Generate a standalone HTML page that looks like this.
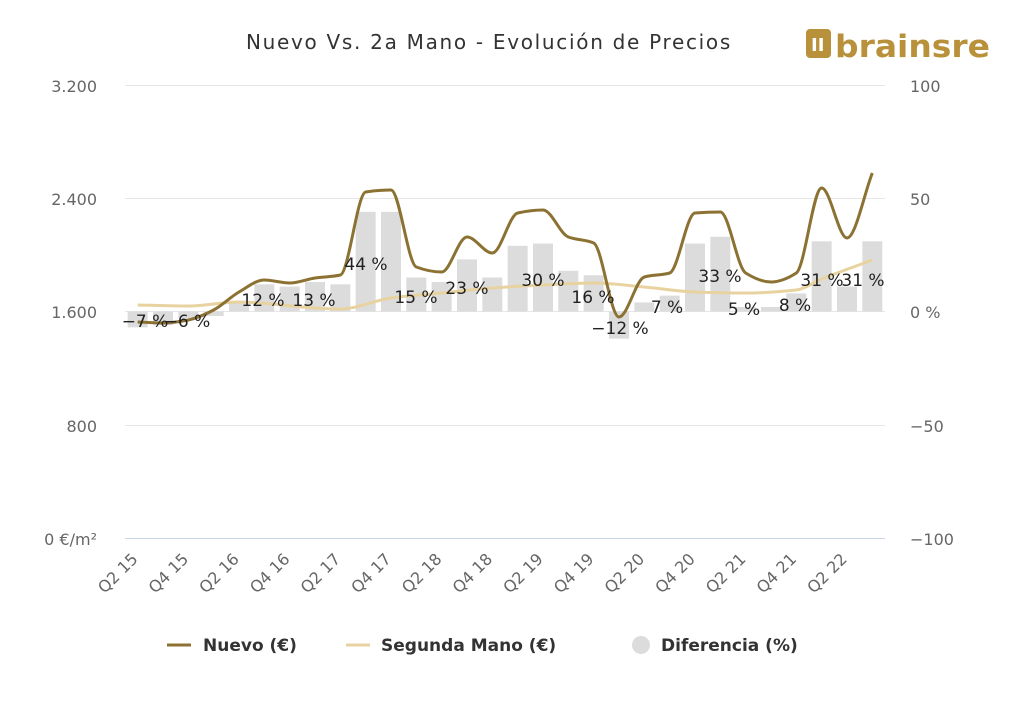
<!DOCTYPE html>
<html><head><meta charset="utf-8"><style>
body{margin:0;background:#fff;}
svg{font-family:"DejaVu Sans",sans-serif;}
</style></head><body>
<svg id="c" width="1024" height="723" viewBox="0 0 1024 723" xmlns="http://www.w3.org/2000/svg">
<rect width="1024" height="723" fill="#fff"/>
<text x="489" y="49" text-anchor="middle" font-size="20" letter-spacing="1.7" fill="#333">Nuevo Vs. 2a Mano - Evolución de Precios</text>
<g>
<rect x="806" y="29" width="25" height="29" rx="4" fill="#b8913a"/>
<text x="811" y="51" font-size="18" font-weight="bold" fill="#fff">II</text>
<text x="835" y="57" font-size="31" font-weight="bold" fill="#b8913a" textLength="155" lengthAdjust="spacingAndGlyphs">brainsre</text>
</g>
<g stroke="#e6e6e6" stroke-width="1">
<line x1="125" x2="885" y1="85.5" y2="85.5"/>
<line x1="125" x2="885" y1="198.5" y2="198.5"/>
<line x1="125" x2="885" y1="311.5" y2="311.5"/>
<line x1="125" x2="885" y1="425.5" y2="425.5"/>
</g>
<line x1="125" x2="885" y1="538.5" y2="538.5" stroke="#ccd6eb"/>
<g font-size="16" fill="#666" text-anchor="end">
<text x="97" y="92">3.200</text><text x="97" y="205">2.400</text><text x="97" y="318">1.600</text><text x="97" y="432">800</text><text x="97" y="545">0 €/m²</text>
</g>
<g font-size="16" fill="#666">
<text x="910" y="92">100</text><text x="910" y="205">50</text><text x="910" y="318">0 %</text><text x="910" y="432">−50</text><text x="910" y="545">−100</text>
</g>
<g id="bars" fill="#dcdcdc"></g>
<path id="seg" fill="none" stroke="#e8d3a0" stroke-width="3"/>
<path id="nue" fill="none" stroke="#8c7232" stroke-width="3"/>
<g id="xl" font-size="16" fill="#666"></g>
<g font-size="17" fill="#222" text-anchor="middle">
<text x="145" y="327">−7 %</text><text x="187" y="327">−6 %</text>
<text x="263" y="306">12 %</text><text x="314" y="306">13 %</text>
<text x="366" y="270">44 %</text><text x="416" y="303">15 %</text>
<text x="467" y="294">23 %</text><text x="543" y="286">30 %</text>
<text x="593" y="303">16 %</text><text x="620" y="334">−12 %</text>
<text x="667" y="313">7 %</text><text x="720" y="282">33 %</text>
<text x="744" y="315">5 %</text><text x="795" y="311">8 %</text>
<text x="822" y="286">31 %</text><text x="863" y="286">31 %</text>
</g>
<g font-size="17" font-weight="bold" fill="#333">
<line x1="167" x2="191" y1="645" y2="645" stroke="#8c7232" stroke-width="3"/>
<text x="203" y="651">Nuevo (€)</text>
<line x1="346" x2="370" y1="645" y2="645" stroke="#e8d3a0" stroke-width="3"/>
<text x="381" y="651">Segunda Mano (€)</text>
<circle cx="641" cy="645" r="9" fill="#dcdcdc"/>
<text x="661" y="651">Diferencia (%)</text>
</g>
</svg>
<script>
var NS="http://www.w3.org/2000/svg";
function cx(i){return 125+25.333*(i+0.5);}
var pct=[-7,-6,-3,-2,4,12,11,13,12,44,44,15,13,23,15,29,30,18,16,-12,4,7,30,33,2,2,8,31,11,31];
var g=document.getElementById('bars');
pct.forEach(function(p,i){var y0=311.5,y=311.5-p*2.265;var r=document.createElementNS(NS,'rect');
r.setAttribute('x',cx(i)-10);r.setAttribute('width',20);r.setAttribute('y',Math.min(y,y0));r.setAttribute('height',Math.abs(y-y0));g.appendChild(r);});
var nue=[322,323,320,310,292,280,283,278,275,192,190,267,272,237,253,213,210,237,243,317,277,273,213,212,273,282,273,188,238,173];
var segIdx=[0,2,4,7,8,10,12,14,16,18,20,22,24,26,27,29];
var segY=[305,306,302,308,309,298,293,288,285,283,287,292,293,290,279,260];
function path(xs,ys){var n=xs.length,d=[],m=[];
for(var i=0;i<n-1;i++)d.push((ys[i+1]-ys[i])/(xs[i+1]-xs[i]));
m[0]=d[0];m[n-1]=d[n-2];
for(i=1;i<n-1;i++){if(d[i-1]*d[i]<=0)m[i]=0;else m[i]=2/(1/d[i-1]+1/d[i]);}
var s='M'+xs[0]+','+ys[0];
for(i=0;i<n-1;i++){var h=(xs[i+1]-xs[i])/3;
s+=' C'+(xs[i]+h)+','+(ys[i]+m[i]*h)+' '+(xs[i+1]-h)+','+(ys[i+1]-m[i+1]*h)+' '+xs[i+1]+','+ys[i+1];}
return s;}
document.getElementById('nue').setAttribute('d',path(nue.map(function(v,i){return cx(i);}),nue));
document.getElementById('seg').setAttribute('d',path(segIdx.map(cx),segY));
var xl=document.getElementById('xl');
for(var k=0;k<15;k++){var q=(k%2==0)?'Q2 ':'Q4 ';var yy=15+Math.floor(k/2);
var t=document.createElementNS(NS,'text');var x=cx(2*k)+1,y=560;t.setAttribute('x',x);t.setAttribute('y',y);t.setAttribute('text-anchor','end');
t.setAttribute('transform','rotate(-45 '+x+' '+y+')');t.textContent=q+yy;xl.appendChild(t);}
</script>
</body></html>
